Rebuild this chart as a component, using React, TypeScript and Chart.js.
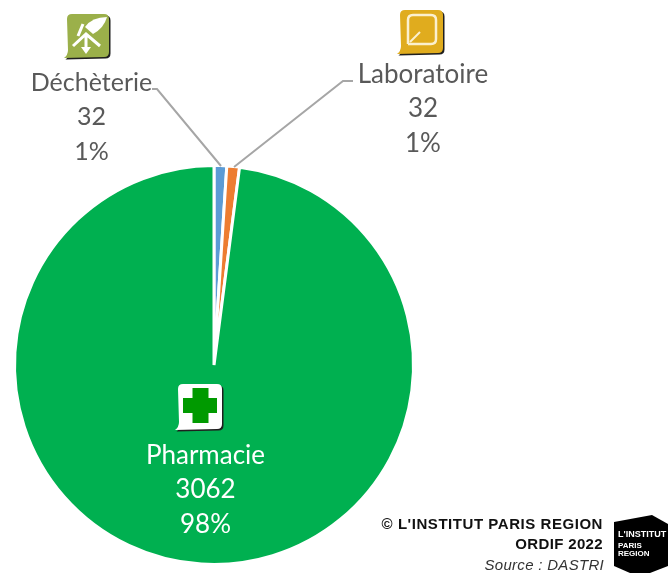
import React, { useEffect, useRef } from "react";
import { Chart, registerables } from "chart.js";

Chart.register(...registerables);

const categories = ["Déchèterie", "Laboratoire", "Pharmacie"];
const values = [32, 32, 3062];
const percents = ["1%", "1%", "98%"];
const colors = ["#5B9BD5", "#ED7D31", "#00B050"];

const FONT = "Lato, 'Open Sans', sans-serif";

function roundedBubble(c: CanvasRenderingContext2D, x: number, y: number, w: number, h: number, r: number) {
  c.beginPath();
  c.moveTo(x + r, y);
  c.lineTo(x + w - r, y);
  c.quadraticCurveTo(x + w, y, x + w, y + r);
  c.lineTo(x + w, y + h - r);
  c.quadraticCurveTo(x + w, y + h, x + w - r, y + h);
  c.lineTo(x - 3, y + h + 1);
  c.quadraticCurveTo(x + 1, y + h - 2, x + 1, y + h - 7);
  c.lineTo(x, y + r);
  c.quadraticCurveTo(x, y, x + r, y);
  c.closePath();
}

function bubble(c: CanvasRenderingContext2D, x: number, y: number, w: number, h: number, fill: string) {
  c.save();
  roundedBubble(c, x + 1.5, y + 1.5, w, h, 5);
  c.fillStyle = "#1f1f1f";
  c.fill();
  roundedBubble(c, x, y, w, h, 5);
  c.fillStyle = fill;
  c.fill();
  c.restore();
}

function drawIcons(c: CanvasRenderingContext2D) {
  // Déchèterie
  bubble(c, 67, 14, 42, 43, "#9BB04A");
  c.save();
  c.strokeStyle = "#fff";
  c.fillStyle = "#fff";
  c.lineWidth = 3;
  c.beginPath();
  c.moveTo(85, 27);
  c.quadraticCurveTo(92, 17, 107, 17);
  c.quadraticCurveTo(104, 28, 93, 34);
  c.closePath();
  c.fill();
  c.beginPath();
  c.moveTo(73, 46);
  c.lineTo(86, 34);
  c.lineTo(100, 46);
  c.moveTo(86, 36);
  c.lineTo(86, 50);
  c.moveTo(83, 24);
  c.lineTo(78, 36);
  c.stroke();
  c.beginPath();
  c.moveTo(81, 47);
  c.lineTo(91, 47);
  c.lineTo(86, 54);
  c.closePath();
  c.fill();
  c.restore();

  // Laboratoire
  bubble(c, 400, 10, 43, 43, "#E0AC1E");
  c.save();
  c.strokeStyle = "#FBF0CF";
  c.lineWidth = 2.5;
  c.beginPath();
  c.moveTo(408, 44);
  c.lineTo(408, 20);
  c.quadraticCurveTo(408, 15, 413, 15);
  c.lineTo(431, 15);
  c.quadraticCurveTo(436, 15, 436, 20);
  c.lineTo(436, 39);
  c.quadraticCurveTo(436, 44, 431, 44);
  c.lineTo(408, 44);
  c.stroke();
  c.lineWidth = 2;
  c.beginPath();
  c.moveTo(410, 42);
  c.lineTo(420, 32);
  c.stroke();
  c.restore();

  // Pharmacie
  bubble(c, 178, 384, 44, 45, "#ffffff");
  c.save();
  c.fillStyle = "#009A00";
  c.fillRect(192.5, 388, 16, 35);
  c.fillRect(183, 398, 34, 15);
  c.restore();

  // Logo
  c.save();
  c.fillStyle = "#000";
  c.beginPath();
  c.moveTo(614, 522);
  c.lineTo(652, 515);
  c.lineTo(668, 524);
  c.lineTo(668, 566);
  c.lineTo(650, 573);
  c.lineTo(630, 573);
  c.lineTo(614, 566);
  c.closePath();
  c.fill();
  c.fillStyle = "#fff";
  c.textAlign = "left";
  c.textBaseline = "middle";
  c.font = "bold 9px 'Liberation Sans'";
  c.fillText("L'INSTITUT", 618, 535);
  c.font = "bold 8px 'Liberation Sans'";
  c.fillText("PARIS", 618, 546);
  c.fillText("REGION", 618, 554);
  c.restore();
}

const overlay = {
  id: "overlay",
  afterDraw(chart: Chart) {
    const c = chart.ctx;
    c.save();
    // leader lines
    c.strokeStyle = "#A6A6A6";
    c.lineWidth = 2;
    c.beginPath();
    c.moveTo(152, 89);
    c.lineTo(157, 89);
    c.lineTo(221, 166);
    c.moveTo(353, 81);
    c.lineTo(343, 81);
    c.lineTo(234, 167);
    c.stroke();

    drawIcons(c);

    // data labels
    const spots = [
      { x: 91.5, y: 82.5, color: "#595959", size: 25 },
      { x: 423, y: 74.5, color: "#595959", size: 26 },
      { x: 205.5, y: 455.5, color: "#ffffff", size: 26 },
    ];
    c.textAlign = "center";
    c.textBaseline = "middle";
    spots.forEach((s, i) => {
      c.font = `${s.size}px ${FONT}`;
      c.fillStyle = s.color;
      c.fillText(categories[i], s.x, s.y);
      c.fillText(String(values[i]), s.x, s.y + 34.5);
      c.fillText(percents[i], s.x, s.y + 69);
    });

    // footer
    c.textAlign = "right";
    c.fillStyle = "#111";
    c.font = "bold 15px 'Liberation Sans'";
    (c as any).letterSpacing = "0.55px";
    c.fillText("© L'INSTITUT PARIS REGION", 603, 525);
    (c as any).letterSpacing = "0.35px";
    c.fillText("ORDIF 2022", 603, 545);
    c.fillStyle = "#333";
    c.font = "italic 15px 'Liberation Sans'";
    (c as any).letterSpacing = "0.3px";
    c.fillText("Source : DASTRI", 604, 566);
    (c as any).letterSpacing = "0px";
    c.restore();
  },
};

export default function App() {
  const ref = useRef<HTMLCanvasElement>(null);
  useEffect(() => {
    const chart = new Chart(ref.current!, {
      type: "pie",
      data: {
        labels: categories,
        datasets: [
          {
            data: values,
            backgroundColor: colors,
            borderColor: "#ffffff",
            borderWidth: 3,
          },
        ],
      },
      options: {
        animation: false,
        responsive: false,
        layout: { padding: { left: 13, top: 164, right: 257, bottom: 7 } },
        plugins: { legend: { display: false }, tooltip: { enabled: false } },
      },
      plugins: [overlay],
    });
    return () => chart.destroy();
  }, []);
  return (
    <canvas
      ref={ref}
      width={672}
      height={573}
      style={{ position: "fixed", left: 0, top: 0, width: 672, height: 573, background: "#fff" }}
    />
  );
}
